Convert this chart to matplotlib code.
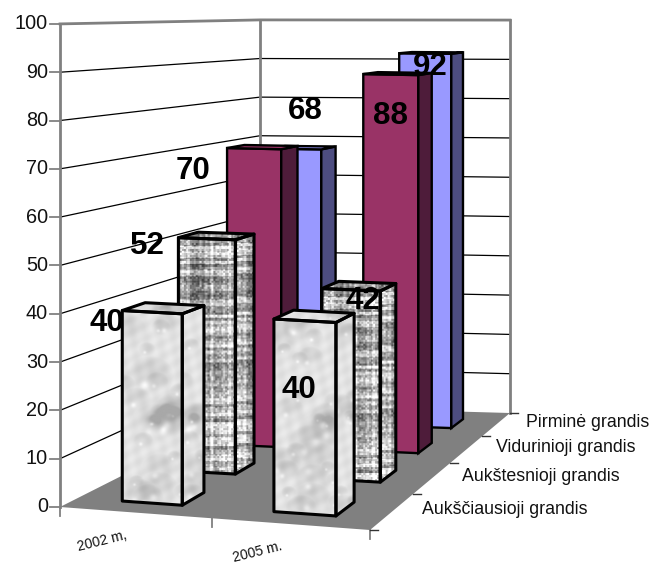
import numpy as np
import matplotlib
matplotlib.use('Agg')
import matplotlib.pyplot as plt
from matplotlib.patches import Polygon

### Chart values
categories = ['2002 m,', '2005 m.']
series_names = ['Aukščiausioji grandis', 'Aukštesnioji grandis', 'Vidurinioji grandis', 'Pirminė grandis']
values_2002 = [40, 52, 70, 68]
values_2005 = [40, 42, 88, 92]
y_ticks = [0, 10, 20, 30, 40, 50, 60, 70, 80, 90, 100]

### Label nudges in pixels, from the top centre of each bar
offset_2002 = [(-57, 15), (-69, 10), (-70, 24), (2, -37)]
offset_2005 = [(-16, 74), (4, 15), (-7, 42), (-1, 14)]

### Floor corners on the canvas (front left, back left, back right, front right)
corners = [(60, 507), (260, 406), (510, 413), (370, 530)]
bar_u = 0.40
bar_d = 0.39
u_warp = 0.045

### Perspective mapping of (category, depth, value) to the canvas
def fit_floor(corners):
    uv = [(0, 0), (0, 4), (2, 4), (2, 0)]
    A = []
    B = []
    for (u, d), (x, y) in zip(uv, corners):
        A.append([u, d, 1, 0, 0, 0, -u*x, -d*x])
        A.append([0, 0, 0, u, d, 1, -u*y, -d*y])
        B += [x, y]
    return np.linalg.solve(np.array(A, float), np.array(B, float))

H = fit_floor(corners)

def project(u, d, v=0):
    u = u + u_warp*u*(2 - u)
    w = H[6]*u + H[7]*d + 1
    x = (H[0]*u + H[1]*d + H[2]) / w
    y = (H[3]*u + H[4]*d + H[5]) / w
    # pixels per value unit shrink towards the back wall
    scale = 1.0 / (0.207 - 0.00225*u + 0.013*d)
    return x, y - scale*v

### Textures, built from a small hash so they come out the same every run
def hash2(i, j):
    s = np.sin(i*12.9898 + j*78.233) * 43758.5453
    return s - np.floor(s)

def weave(nx, ny, gain=1.0):
    yy, xx = np.mgrid[0:ny, 0:nx]
    speck = hash2(xx // 2, yy // 2)
    rows = hash2(yy // 3, 3*np.ones_like(yy))
    cols = hash2(5*np.ones_like(xx), xx // 3)
    img = 0.30*speck + 0.38*rows + 0.32*cols
    img = (img - 0.5)*1.15 + 0.68
    return np.clip(img*gain, 0.25, 1)

def craters(nx, ny, seed=0.0, base=0.89):
    yy, xx = np.mgrid[0:ny, 0:nx].astype(float)
    img = base + 0.03*np.sin(xx*0.35 + yy*0.2 + seed) * np.sin(yy*0.27 - xx*0.11)
    for k in range(1, int(nx*ny/500) + 3):
        cx = hash2(k + seed, 1.0)*nx
        cy = hash2(k + seed, 2.0)*ny
        r = 5 + 17*hash2(k + seed, 3.0)
        dist = np.hypot((xx - cx)/1.2, yy - cy) / r
        dip = np.clip(1 - dist**3, 0, 1)
        shade = 0.11*dip*np.clip(0.5 + (yy - cy)/r*-0.5, 0.2, 1)
        img -= shade
        rim = np.exp(-(np.hypot(xx - cx + r*0.3, yy - cy - r*0.45)/(r*0.2))**2)
        img += 0.10*rim
    return np.clip(img, 0.66, 1)

def textured_face(ax, pts, kind, gain, zorder, seed):
    pts = np.array(pts)
    x0, y0 = pts.min(axis=0)
    x1, y1 = pts.max(axis=0)
    nx = max(int(x1 - x0) + 2, 2)
    ny = max(int(y1 - y0) + 2, 2)
    if kind == 'craters':
        img = craters(nx, ny, seed) * gain
    else:
        img = weave(nx, ny, gain)
    im = ax.imshow(img, extent=(x0, x1, y1, y0), cmap='gray', vmin=0, vmax=1,
                   aspect='auto', interpolation='bilinear', zorder=zorder)
    patch = Polygon(pts, closed=True, transform=ax.transData, fc='none', ec='none')
    ax.add_patch(patch)
    im.set_clip_path(patch)

def draw_bar(ax, i, j, value, zorder):
    u0 = i + 0.5 - bar_u/2
    u1 = i + 0.5 + bar_u/2
    d0 = j + 0.28
    d1 = d0 + bar_d
    front = [project(u0, d0), project(u1, d0), project(u1, d0, value), project(u0, d0, value)]
    side = [project(u1, d0), project(u1, d1), project(u1, d1, value), project(u1, d0, value)]
    top = [project(u0, d0, value), project(u1, d0, value), project(u1, d1, value), project(u0, d1, value)]
    if j < 2:
        kind = 'craters' if j == 0 else 'weave'
        textured_face(ax, front, kind, 1.0, zorder, 10*i + j)
        textured_face(ax, side, kind, 1.0, zorder, 10*i + j + 5)
        textured_face(ax, top, kind, 1.0, zorder, 10*i + j + 7)
        for face in (front, side, top):
            ax.add_patch(Polygon(face, closed=True, fc='none', ec='black', lw=2.2,
                                 joinstyle='round', zorder=zorder + 0.1))
    else:
        colors = {2: ('#993366', '#4E1C3A'), 3: ('#9999FF', '#4D4D80')}[j]
        ax.add_patch(Polygon(front, closed=True, fc=colors[0], ec='black', lw=1.7, zorder=zorder))
        ax.add_patch(Polygon(side, closed=True, fc=colors[1], ec='black', lw=1.7, zorder=zorder))
        ax.add_patch(Polygon(top, closed=True, fc=colors[0], ec='black', lw=1.7, zorder=zorder))

### Canvas
plt.rcParams['font.family'] = ['Liberation Sans', 'DejaVu Sans']
fig = plt.figure(figsize=(6.5, 5.66), dpi=100)
ax = fig.add_axes([0, 0, 1, 1])
ax.axis('off')

### Floor
floor = [project(0, 0), project(0, 4), project(2, 4), project(2, 0)]
ax.add_patch(Polygon(floor, closed=True, fc='#808080', ec='none', zorder=1))

### Walls and gridlines
for v in y_ticks:
    if v == 0:
        continue
    a = project(0, 0, v)
    b = project(0, 4, v)
    c = project(2, 4, v)
    col = '#808080' if v == 100 else 'black'
    lw = 2 if v == 100 else 0.9
    ax.plot([a[0], b[0], c[0]], [a[1], b[1], c[1]], color=col, lw=lw, zorder=2)
for u, d in [(0, 0), (0, 4), (2, 4)]:
    a = project(u, d, 0)
    b = project(u, d, 100)
    ax.plot([a[0], b[0]], [a[1], b[1]], color='#808080', lw=2, zorder=2)

### Value axis ticks and labels
for v in y_ticks:
    x, y = project(0, 0, v)
    ax.plot([x - 10, x], [y, y], color='#808080', lw=1.3, zorder=2)
    ax.text(x - 12, y, str(v), ha='right', va='center', fontsize=14.3, color='#111111', zorder=30)

### Floor edge ticks
for i in range(3):
    x, y = project(i, 0)
    ax.plot([x, x], [y, y + 9], color='#808080', lw=1.3, zorder=2)
for j in range(5):
    x, y = project(2, j)
    ax.plot([x, x + 8], [y, y], color='#333333', lw=1.0, zorder=2)

### Category and series labels
for i, name in enumerate(categories):
    x, y = project(i + 0.5, 0)
    ax.text(x - 33, y + 28, name, ha='center', va='center', rotation=14, fontsize=10, color='#111111')
for j, name in enumerate(series_names):
    x, y = project(2, j + 0.5)
    ax.text(x + 29, y - 1.5, name, ha='left', va='center', fontsize=12.8, color='#111111')

### Bars and their value labels, back to front
for j in [3, 2, 1, 0]:
    for i, vals, offs in [(0, values_2002, offset_2002), (1, values_2005, offset_2005)]:
        z = 10 + (3 - j)*4 + i
        draw_bar(ax, i, j, vals[j], z)
        x, y = project(i + 0.5, j + 0.475, vals[j])
        ax.text(x + offs[j][0], y + offs[j][1], str(vals[j]), ha='center', va='center',
                fontsize=22.5, fontweight='bold', color='black', zorder=z + 0.5)

ax.set_xlim(0, 650)
ax.set_ylim(566, 0)
fig.savefig('out.png', dpi=100)
